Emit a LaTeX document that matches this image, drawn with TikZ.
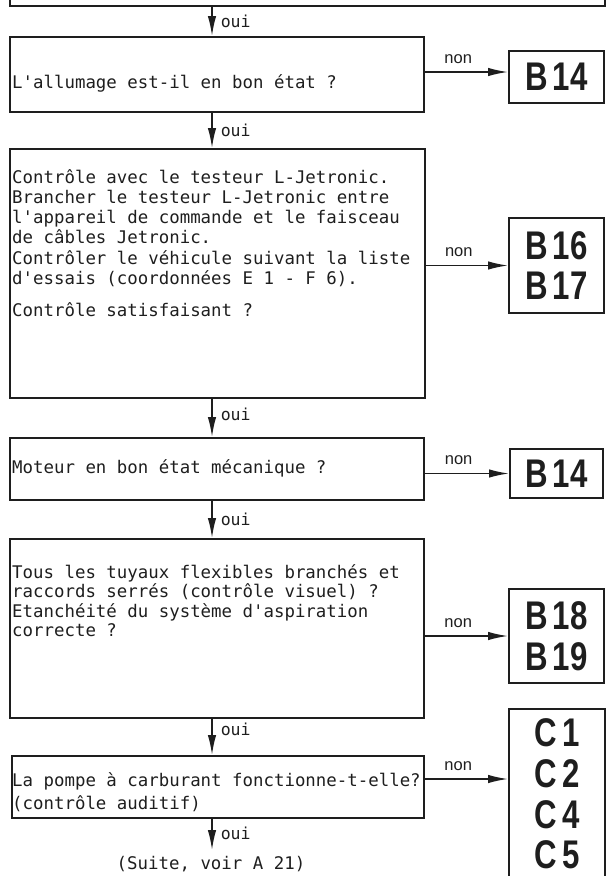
\documentclass[tikz,border=0pt]{standalone}
\usepackage{fontspec}
\usetikzlibrary{arrows.meta}
% typewriter text of the chart, labels and the bold reference codes
\newfontfamily\boxfont[Ligatures=TeXOff]{DejaVu Sans Mono}
\newfontfamily\labelfont{Liberation Sans}
\newfontfamily\reffont[FakeStretch=0.78]{Liberation Sans Bold}
\definecolor{ink}{HTML}{1E1E1E}
\begin{document}
\begin{tikzpicture}[x=1pt,y=-1pt,
  box/.style={draw=ink, line width=2pt, rectangle, inner sep=0pt, anchor=north west},
  refbox/.style={draw=ink, line width=2pt, rectangle, inner sep=0pt, anchor=north west,
    align=center, text=ink, font=\reffont\fontsize{40}{40.7}\selectfont},
  ln/.style={anchor=west, inner sep=0pt, text=ink, font=\boxfont\fontsize{17.4}{20}\selectfont,
    text height=12.6pt, text depth=0pt},
  oui/.style={inner sep=0pt, text=ink, font=\boxfont\fontsize{16.5}{17}\selectfont,
    anchor=west, xshift=8pt},
  non/.style={inner sep=0pt, text=ink, font=\labelfont\fontsize{16.5}{17}\selectfont,
    anchor=south, yshift=8pt},
  arr/.style={draw=ink, line width=1.6pt, -{Latex[length=20pt,width=8.5pt]}}]
\useasboundingbox (0,0) rectangle (611,876);
\clip (0,0) rectangle (611,876);

% question boxes
\node[box, minimum width=595pt, minimum height=35pt] (b0) at (9,-30) {};
\node[box, minimum width=414pt, minimum height=75pt] (b1) at (9,36) {};
\node[box, minimum width=415pt, minimum height=249pt] (b2) at (9,148) {};
\node[box, minimum width=414pt, minimum height=62pt] (b3) at (9,437) {};
\node[box, minimum width=414pt, minimum height=179pt] (b4) at (9,538) {};
\node[box, minimum width=412pt, minimum height=62pt] (b5) at (11,755) {};

% reference boxes
\node[refbox, minimum width=95pt, minimum height=52pt] (r1) at (508,50) {B\kern5pt14};
\node[refbox, minimum width=95pt, minimum height=95pt] (r2) at (508,217) {B\kern5pt16\\B\kern5pt17};
\node[refbox, minimum width=93pt, minimum height=49pt] (r3) at (509,448) {B\kern5pt14};
\node[refbox, minimum width=95pt, minimum height=94pt] (r4) at (508,588) {B\kern5pt18\\B\kern5pt19};
\node[refbox, minimum width=96pt, minimum height=170pt] (r5) at (508,708) {C\kern5pt1\\C\kern5pt2\\C\kern5pt4\\C\kern5pt5};

% box texts
\node[ln] (t1) at (12,82) {L'allumage est-il en bon état ?};
\node[ln] (t2a) at (12,177) {Contrôle avec le testeur L-Jetronic.};
\node[ln] (t2b) at (12,197) {Brancher le testeur L-Jetronic entre};
\node[ln] (t2c) at (12,217.5) {l'appareil de commande et le faisceau};
\node[ln] (t2d) at (12,237.5) {de câbles Jetronic.};
\node[ln] (t2e) at (12,258) {Contrôler le véhicule suivant la liste};
\node[ln] (t2f) at (12,278) {d'essais (coordonnées E 1 - F 6).};
\node[ln] (t2g) at (12,310) {Contrôle satisfaisant ?};
\node[ln] (t3) at (12,467) {Moteur en bon état mécanique ?};
\node[ln] (t4a) at (12,572) {Tous les tuyaux flexibles branchés et};
\node[ln] (t4b) at (12,591.5) {raccords serrés (contrôle visuel) ?};
\node[ln] (t4c) at (12,611) {Etanchéité du système d'aspiration};
\node[ln] (t4d) at (12,630) {correcte ?};
\node[ln] (t5a) at (12,780) {La pompe à carburant fonctionne-t-elle?};
\node[ln] (t5b) at (12,803) {(contrôle auditif)};
\node[ln, anchor=center] (suite) at (211,863) {(Suite, voir A 21)};

% "oui" flow
\coordinate (ax) at (212,0);
\coordinate (endx) at (212,850);
\draw[arr] (b0.south -| ax) -- (b1.north -| ax) node[oui, midway] (o0) {oui};
\draw[arr] (b1.south -| ax) -- (b2.north -| ax) node[oui, midway] (o1) {oui};
\draw[arr] (b2.south -| ax) -- (b3.north -| ax) node[oui, pos=0.4] (o2) {oui};
\draw[arr] (b3.south -| ax) -- (b4.north -| ax) node[oui, midway] (o3) {oui};
\draw[arr] (b4.south -| ax) -- (b5.north -| ax) node[oui, pos=0.3] (o4) {oui};
\draw[arr] (b5.south -| ax) -- (endx) node[oui, pos=0.45] (o5) {oui};

% "non" flow
\coordinate (n5) at (508,779);
\draw[arr] (b1.east |- 0,72) -- (r1.west |- 0,72) node[non, pos=0.4] (m1) {non};
\draw[arr] (b2.east |- r2.west) -- (r2.west) node[non, pos=0.4] (m2) {non};
\draw[arr] (b3.east |- r3.west) -- (r3.west) node[non, pos=0.4] (m3) {non};
\draw[arr] (b4.east |- r4.west) -- (r4.west) node[non, pos=0.4] (m4) {non};
\draw[arr] (b5.east |- n5) -- (n5) node[non, pos=0.4] (m5) {non};
\end{tikzpicture}
\end{document}
